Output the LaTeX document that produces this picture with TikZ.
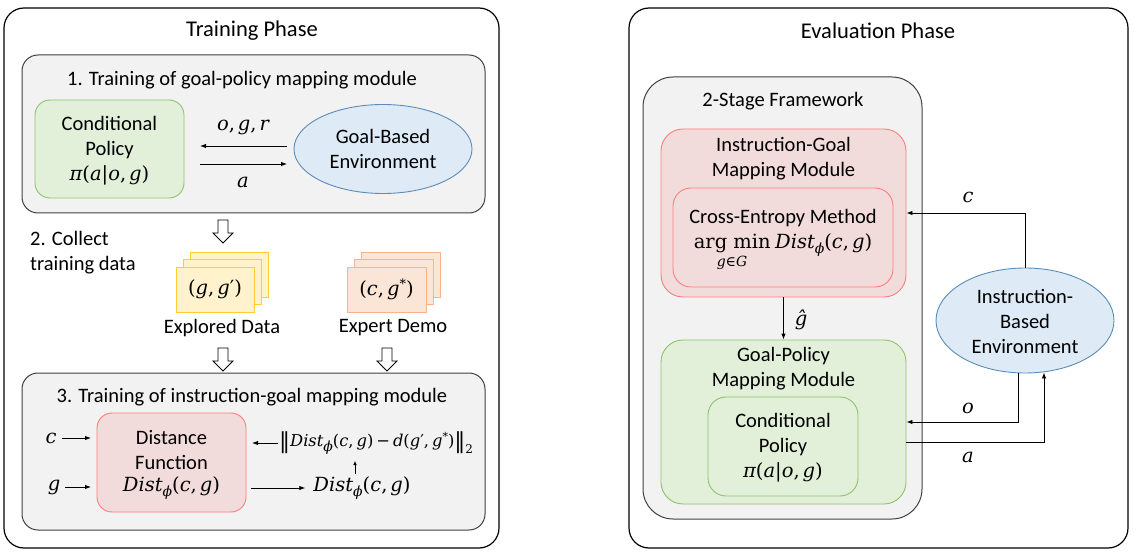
\documentclass[tikz,border=0pt]{standalone}
\usepackage{fontspec}
\setmainfont{Carlito}
\newfontfamily\mserif{DejaVu Serif}
\newcommand\mv[1]{{\mserif\itshape #1}}
\newcommand\mr[1]{{\mserif #1}}
\newcommand\cm{\mr{,}\kern3pt}
\newcommand\msub[1]{\raisebox{-0.3em}{\fontsize{14}{14}\selectfont #1}}
\newcommand\Dist{\mv{Dist}\msub{\mv{ϕ}}\mr{(}\mv{c}\cm\mv{g}\mr{)}}
\newcommand\Pol{\mv{π}\mr{(}\mv{a}\mr{|}\mv{o}\cm\mv{g}\mr{)}}
\usetikzlibrary{arrows.meta,shapes.geometric,calc}
\definecolor{grayfill}{HTML}{F2F2F2}
\definecolor{grayline}{HTML}{404040}
\definecolor{greenfill}{HTML}{E2F0D9}
\definecolor{greenline}{HTML}{8DC26F}
\definecolor{bluefill}{HTML}{DEEBF7}
\definecolor{blueline}{HTML}{5B8DB8}
\definecolor{pinkfill}{HTML}{F2DCDB}
\definecolor{pinkline}{HTML}{FF7C80}
\definecolor{yelfill}{HTML}{FFF2CC}
\definecolor{yelline}{HTML}{FFCC33}
\definecolor{orfill}{HTML}{FBE5D6}
\definecolor{orline}{HTML}{F8B38A}
\begin{document}
\begin{tikzpicture}[x=1pt,y=-1pt,
  outerbox/.style={draw=black,line width=1.2pt,fill=white,rounded corners=20pt,inner sep=0pt},
  graybox/.style={draw=grayline,line width=1pt,fill=grayfill,rounded corners=16pt,inner sep=0pt},
  greenbox/.style={draw=greenline,line width=0.9pt,fill=greenfill,rounded corners=15pt,inner sep=0pt},
  pinkbox/.style={draw=pinkline,line width=0.9pt,fill=pinkfill,rounded corners=15pt,inner sep=0pt},
  envell/.style={ellipse,draw=blueline,line width=0.9pt,fill=bluefill,inner sep=0pt},
  yelcard/.style={draw=yelline,line width=0.9pt,fill=yelfill,inner sep=0pt,minimum width=78pt,minimum height=45pt},
  orcard/.style={draw=orline,line width=0.9pt,fill=orfill,inner sep=0pt,minimum width=79pt,minimum height=45pt},
  txt/.style={font=\fontsize{20.5}{25}\selectfont,align=center,inner sep=0pt},
  mth/.style={font=\fontsize{19.5}{25}\selectfont,align=center,inner sep=0pt},
  ttl/.style={font=\fontsize{22.5}{26}\selectfont,inner sep=0pt},
  arr/.style={line width=0.9pt,-{Latex[length=6pt,width=4.5pt]}},
  hollow/.pic={\draw[fill=white,line width=0.8pt] (-5,0) -- (5,0) -- (5,13) -- (10,13) -- (0,23) -- (-10,13) -- (-5,13) -- cycle;}
]
\useasboundingbox (0,0) rectangle (1136,556);
\fill[white] (0,0) rectangle (1136,556);

% ---------------- Training phase ----------------
\node[outerbox,minimum width=495pt,minimum height=540pt] (train) at (251.5,278) {};
\node[ttl] (trainttl) at (252,31) {Training Phase};

\node[graybox,minimum width=463pt,minimum height=158pt] (b1) at (253.5,134) {};
\node[txt] (b1ttl) at (242,80) {1. Training of goal-policy mapping module};
\node[greenbox,minimum width=149pt,minimum height=98pt] (cp) at (109.5,149) {};
\node[txt] (cptxt) at (109.5,137.5) {Conditional\\Policy};
\node[mth] (cpeq) at (109.5,175) {\Pol};
\node[envell,minimum width=178pt,minimum height=89pt] (genv) at (383,149) {};
\node[txt] (genvtxt) at (383,149) {Goal-Based\\Environment};
\coordinate (ogrs) at (287,146);
\coordinate (ogre) at (200,146);
\coordinate (as) at (200,164);
\coordinate (ae) at (287,164);
\draw[arr] (ogrs) -- (ogre);
\draw[arr] (as) -- (ae);
\node[mth] (ogrlbl) at (243,127) {\mv{o}\cm\mv{g}\cm\mv{r}};
\node[mth] (albl) at (243,182) {\mv{a}};

\pic at (223,220) {hollow};
\node[txt,align=left,anchor=west] (collect) at (30,253) {2. Collect\\training data};

\node[yelcard] (ed3) at (229.5,274.5) {};
\node[yelcard] (ed2) at (222,282) {};
\node[yelcard] (ed1) at (215,289.5) {};
\node[mth] (edtxt) at (215,289) {\mr{(}\mv{g}\cm\mv{g}\mr{′}\mr{)}};
\node[orcard] (ex3) at (401,274.5) {};
\node[orcard] (ex2) at (394,282) {};
\node[orcard] (ex1) at (386.5,289.5) {};
\node[mth] (extxt) at (386.5,289) {\mr{(}\mv{c}\cm\mv{g}\raisebox{0.35em}{\fontsize{13}{13}\selectfont\mr{*}}\mr{)}};
\node[txt] (edlbl) at (222,328) {Explored Data};
\node[txt] (exlbl) at (393,328) {Expert Demo};

\pic at (223,348) {hollow};
\pic at (387,348) {hollow};

\node[graybox,minimum width=463pt,minimum height=157pt] (b3) at (253.5,451.5) {};
\node[txt] (b3ttl) at (252,397) {3. Training of instruction-goal mapping module};
\node[pinkbox,minimum width=149pt,minimum height=99pt] (df) at (171.5,462.5) {};
\node[txt] (dftxt) at (171.5,450.5) {Distance\\Function};
\node[mth] (dfeq) at (171.5,488) {\Dist};
\node[mth] (cin) at (51,438) {\mv{c}};
\node[mth] (gin) at (54,487) {\mv{g}};
\coordinate (cinarr) at (91,438);
\coordinate (ginarr) at (91,487);
\draw[arr] (cin.east) ++(5,0) -- (cinarr);
\draw[arr] (gin.east) ++(5,0) -- (ginarr);
\node[mth] (dout) at (362,488) {\Dist};
\coordinate (doutstart) at (251,488);
\draw[arr] (doutstart) -- ([xshift=-8pt]dout.west);
\node[mth,font=\fontsize{16.3}{25}\selectfont,anchor=west] (norm) at (279,443) {\raisebox{-0.12em}{\fontsize{22}{22}\selectfont\mr{‖}}\Dist\kern3pt\mr{−}\kern3pt\mv{d}\mr{(}\mv{g}\mr{′}\cm\mv{g}\raisebox{0.35em}{\fontsize{11}{11}\selectfont\mr{*}}\mr{)}\raisebox{-0.12em}{\fontsize{22}{22}\selectfont\mr{‖}}\raisebox{-0.45em}{\fontsize{12}{12}\selectfont\mr{2}}};
\coordinate (normend) at (252,443);
\draw[arr] ([xshift=-1pt]norm.west) -- (normend);
\coordinate (upa) at (355,474);
\coordinate (upb) at (355,461);
\draw[line width=0.6pt,-{Latex[length=4pt,width=3.5pt]}] (upa) -- (upb);

% ---------------- Evaluation phase ----------------
\node[outerbox,minimum width=499pt,minimum height=540pt] (eval) at (878.5,278) {};
\node[ttl] (evalttl) at (878,31) {Evaluation Phase};

\node[graybox,rounded corners=30pt,minimum width=279pt,minimum height=442pt] (fw) at (782.5,298) {};
\node[txt] (fwttl) at (783,101) {2-Stage Framework};

\node[pinkbox,rounded corners=22pt,minimum width=245pt,minimum height=168pt] (ig) at (783.5,213) {};
\node[txt] (igttl) at (783.5,159) {Instruction-Goal\\Mapping Module};
\node[pinkbox,rounded corners=18pt,minimum width=220pt,minimum height=99pt] (cem) at (783,237.5) {};
\node[txt] (cemttl) at (783,218) {Cross-Entropy Method};
\node[mth] (cemeq) at (783,245) {\mr{arg min} \Dist};
\node[mth,font=\fontsize{14}{14}\selectfont] (cemsub) at (732,263) {\mv{g}\mr{∈}\mv{G}};

\node[greenbox,rounded corners=22pt,minimum width=245pt,minimum height=164pt] (gp) at (783.5,422) {};
\node[txt] (gpttl) at (783.5,369) {Goal-Policy\\Mapping Module};
\node[greenbox,rounded corners=18pt,minimum width=150pt,minimum height=99pt] (cp2) at (783,446.5) {};
\node[txt] (cp2txt) at (783,434.5) {Conditional\\Policy};
\node[mth] (cp2eq) at (783,472) {\Pol};

\draw[arr] (ig.south) -- (gp.north);
\node[mth] (ghat) at (801,320) {\mv{ĝ}};

\node[envell,minimum width=178pt,minimum height=105pt] (ienv) at (1025,320.5) {};
\node[txt] (ienvtxt) at (1025,321) {Instruction-\\Based\\Environment};

\draw[arr] (ienv.north) |- (ig.east);
\draw[arr] ([xshift=-7pt]ienv.south) |- (gp.east);
\coordinate (aout) at (906,442);
\draw[arr] (aout) -| ([xshift=19pt,yshift=1pt]ienv.south);
\node[mth] (clbl) at (968,197) {\mv{c}};
\node[mth] (olbl) at (968,408) {\mv{o}};
\node[mth] (albl2) at (968,457) {\mv{a}};
\end{tikzpicture}
\end{document}
